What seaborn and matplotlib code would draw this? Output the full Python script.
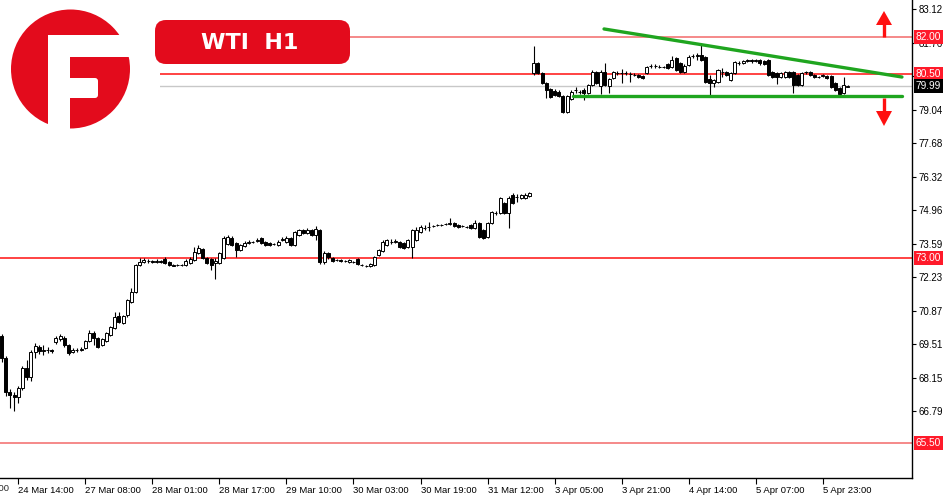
import matplotlib
matplotlib.use("Agg")
import matplotlib.pyplot as plt
from matplotlib.patches import Circle, Rectangle, Polygon, FancyBboxPatch
import numpy as np
import pandas as pd
import seaborn as sns

# ---------------- data (WTI, H1 candles) ----------------
opens = [69.85, 68.96, 67.58, 67.46, 67.38, 67.74, 68.55, 68.19, 69.21, 69.41,
         69.25, 69.29, 69.27, 69.61, 69.73, 69.77, 69.49, 69.21, 69.29, 69.29,
         69.37, 69.65, 69.97, 69.77, 69.49, 69.65, 69.89, 70.18, 70.66, 70.38,
         70.70, 71.23, 71.64, 72.73, 72.86, 72.90, 72.90, 72.86, 72.90, 72.98,
         72.86, 72.73, 72.73, 72.72, 72.73, 72.82, 72.94, 73.22, 73.38, 73.02,
         72.98, 72.82, 72.82, 73.02, 73.59, 73.83, 73.63, 73.34, 73.51, 73.63,
         73.67, 73.71, 73.83, 73.67, 73.63, 73.59, 73.55, 73.75, 73.67, 73.83,
         73.55, 73.95, 74.15, 74.03, 74.15, 73.95, 74.15, 72.86, 73.22, 73.02,
         72.94, 72.94, 72.90, 72.86, 72.86, 72.98, 72.73, 72.69, 72.69, 72.73,
         73.14, 73.30, 73.55, 73.67, 73.67, 73.67, 73.63, 73.47, 73.47, 73.75,
         74.07, 74.23, 74.28, 74.32, 74.36, 74.36, 74.40, 74.40, 74.44, 74.36,
         74.32, 74.28, 74.36, 74.23, 74.44, 74.15, 73.87, 74.44, 74.84, 74.84,
         75.25, 74.84, 75.57, 75.49, 75.45, 75.45, 75.53, 80.52, 80.93, 80.52,
         80.12, 79.87, 79.79, 79.75, 79.59, 78.94, 79.47, 79.83, 79.75, 79.83,
         79.71, 80.04, 80.56, 80.00, 80.56, 80.00, 80.32, 80.52, 80.52, 80.52,
         80.48, 80.44, 80.44, 80.40, 80.52, 80.81, 80.80, 80.77, 80.77, 80.89,
         80.77, 81.13, 80.93, 80.56, 80.85, 81.21, 81.21, 81.25, 81.17, 80.28,
         80.12, 80.16, 80.56, 80.56, 80.24, 80.52, 80.93, 80.93, 81.01, 81.05,
         81.01, 81.05, 81.01, 81.05, 80.56, 80.52, 80.36, 80.36, 80.56, 80.56,
         80.44, 80.04, 80.56, 80.56, 80.44, 80.36, 80.40, 80.40, 80.40, 80.12,
         79.91, 79.71, 79.97]
highs = [69.93, 69.05, 67.70, 67.58, 67.82, 68.63, 68.88, 69.29, 69.57, 69.49,
         69.49, 69.41, 69.33, 69.85, 69.93, 69.85, 69.53, 69.37, 69.37, 69.41,
         69.69, 70.10, 70.06, 69.81, 69.77, 70.02, 70.26, 70.83, 70.83, 70.70,
         71.35, 71.80, 72.77, 73.02, 73.02, 72.98, 72.94, 72.98, 72.94, 73.06,
         72.90, 72.77, 72.77, 72.77, 72.98, 73.06, 73.46, 73.55, 73.42, 73.06,
         73.02, 73.02, 73.26, 73.91, 73.95, 73.91, 73.67, 73.59, 73.71, 73.75,
         73.71, 73.83, 73.87, 73.71, 73.67, 73.63, 73.75, 73.87, 73.91, 73.87,
         74.11, 74.19, 74.19, 74.23, 74.19, 74.32, 74.19, 73.30, 73.26, 73.06,
         72.98, 72.98, 72.94, 72.98, 72.90, 73.02, 72.77, 72.73, 72.82, 73.10,
         73.38, 73.75, 73.79, 73.79, 73.79, 73.71, 73.67, 73.79, 74.19, 74.28,
         74.36, 74.36, 74.48, 74.36, 74.40, 74.40, 74.44, 74.64, 74.48, 74.40,
         74.36, 74.32, 74.40, 74.56, 74.48, 74.19, 74.48, 74.93, 74.93, 75.49,
         75.29, 75.53, 75.66, 75.61, 75.61, 75.66, 75.70, 81.62, 80.97, 80.56,
         80.16, 79.91, 79.87, 79.83, 79.63, 79.63, 79.83, 79.96, 79.83, 79.91,
         80.08, 80.65, 80.60, 80.65, 80.93, 80.32, 80.60, 80.60, 80.69, 80.60,
         80.56, 80.52, 80.48, 80.44, 80.81, 80.89, 80.89, 80.85, 80.81, 80.93,
         81.21, 81.17, 80.97, 80.89, 81.25, 81.29, 81.33, 81.70, 81.21, 80.44,
         80.28, 80.69, 80.73, 80.60, 80.56, 81.01, 81.01, 81.05, 81.09, 81.09,
         81.09, 81.09, 81.05, 81.09, 80.60, 80.56, 80.56, 80.60, 80.60, 80.60,
         80.48, 80.56, 80.60, 80.60, 80.48, 80.40, 80.48, 80.44, 80.44, 80.16,
         79.96, 80.36, 80.02]
lows = [68.80, 67.42, 66.93, 66.81, 67.14, 67.66, 68.07, 68.03, 68.96, 69.13,
        69.09, 69.17, 69.17, 69.53, 69.65, 69.41, 69.09, 69.17, 69.21, 69.25,
        69.33, 69.61, 69.49, 69.37, 69.45, 69.61, 69.85, 70.14, 70.38, 70.34,
        70.62, 71.19, 71.60, 72.69, 72.82, 72.82, 72.82, 72.82, 72.82, 72.77,
        72.69, 72.69, 72.69, 72.69, 72.69, 72.77, 72.90, 73.18, 72.98, 72.77,
        72.53, 72.17, 72.77, 72.98, 73.55, 73.51, 73.06, 73.30, 73.47, 73.59,
        73.63, 73.67, 73.59, 73.51, 73.51, 73.55, 73.51, 73.71, 73.63, 73.51,
        73.51, 73.91, 73.99, 73.99, 73.91, 73.75, 72.77, 72.77, 72.98, 72.86,
        72.90, 72.86, 72.86, 72.82, 72.82, 72.73, 72.69, 72.65, 72.65, 72.69,
        73.10, 73.26, 73.51, 73.59, 73.63, 73.42, 73.38, 73.42, 73.02, 73.71,
        74.03, 74.15, 74.11, 74.28, 74.32, 74.32, 74.36, 74.36, 74.28, 74.23,
        74.28, 74.23, 74.19, 74.19, 73.83, 73.79, 73.83, 74.40, 74.76, 74.80,
        74.80, 74.23, 75.21, 75.29, 75.41, 75.41, 75.49, 80.44, 80.48, 80.08,
        79.51, 79.51, 79.59, 79.55, 78.90, 78.90, 79.43, 79.71, 79.67, 79.43,
        79.67, 80.00, 80.08, 79.67, 80.00, 79.71, 80.28, 80.44, 80.12, 80.44,
        80.16, 80.40, 80.32, 80.28, 80.48, 80.73, 80.73, 80.73, 80.73, 80.69,
        80.73, 80.60, 80.52, 80.52, 80.81, 81.13, 81.05, 81.01, 80.12, 79.63,
        79.96, 80.12, 80.36, 80.40, 80.20, 80.48, 80.85, 80.89, 80.97, 80.93,
        80.97, 80.85, 80.85, 80.40, 80.32, 80.08, 80.32, 80.32, 80.32, 79.71,
        80.00, 80.00, 80.48, 80.40, 80.32, 80.32, 80.36, 80.28, 79.91, 79.79,
        79.63, 79.67, 79.95]
closes = [68.96, 67.58, 67.46, 67.38, 67.74, 68.55, 68.19, 69.21, 69.45, 69.25,
          69.29, 69.27, 69.25, 69.77, 69.85, 69.49, 69.17, 69.29, 69.27, 69.33,
          69.65, 69.97, 69.77, 69.41, 69.73, 69.97, 70.22, 70.62, 70.42, 70.66,
          71.31, 71.64, 72.73, 72.86, 72.92, 72.90, 72.86, 72.90, 72.86, 72.82,
          72.73, 72.71, 72.72, 72.73, 72.90, 72.98, 73.26, 73.42, 73.02, 72.82,
          72.73, 72.90, 73.22, 73.83, 73.87, 73.55, 73.34, 73.55, 73.63, 73.67,
          73.66, 73.75, 73.63, 73.55, 73.55, 73.58, 73.67, 73.79, 73.83, 73.55,
          74.07, 74.15, 74.03, 74.15, 73.95, 74.19, 72.86, 73.22, 73.06, 72.90,
          72.93, 72.90, 72.89, 72.94, 72.85, 72.77, 72.72, 72.68, 72.77, 73.06,
          73.34, 73.67, 73.75, 73.66, 73.71, 73.47, 73.42, 73.75, 74.15, 74.15,
          74.28, 74.22, 74.27, 74.31, 74.35, 74.37, 74.41, 74.44, 74.32, 74.28,
          74.31, 74.27, 74.23, 74.44, 73.87, 73.83, 74.44, 74.88, 74.85, 75.45,
          74.84, 75.45, 75.25, 75.50, 75.57, 75.57, 75.66, 80.93, 80.52, 80.12,
          79.83, 79.55, 79.63, 79.59, 78.94, 79.59, 79.75, 79.82, 79.76, 79.71,
          80.04, 80.56, 80.12, 80.56, 80.04, 80.28, 80.56, 80.53, 80.51, 80.53,
          80.47, 80.45, 80.36, 80.32, 80.77, 80.80, 80.81, 80.78, 80.76, 80.73,
          81.05, 80.65, 80.56, 80.81, 81.17, 81.20, 81.25, 81.05, 80.16, 80.12,
          80.24, 80.65, 80.57, 80.44, 80.52, 80.97, 80.94, 81.01, 81.05, 81.01,
          81.05, 80.93, 80.89, 80.44, 80.36, 80.36, 80.52, 80.56, 80.36, 80.04,
          80.04, 80.52, 80.55, 80.44, 80.36, 80.37, 80.44, 80.32, 79.96, 79.83,
          79.67, 80.04, 79.99]

tick_positions = [4, 20, 36, 52, 68, 84, 100, 116, 132, 148, 164, 180, 196]
tick_labels = ["24 Mar 14:00", "27 Mar 08:00", "28 Mar 01:00", "28 Mar 17:00",
               "29 Mar 10:00", "30 Mar 03:00", "30 Mar 19:00", "31 Mar 12:00",
               "3 Apr 05:00", "3 Apr 21:00", "4 Apr 14:00", "5 Apr 07:00",
               "5 Apr 23:00"]
prev_tick_position = -12
prev_tick_label = "23 Mar 22:00"

ytick_values = [83.12, 81.76, 80.40, 79.04, 77.68, 76.32, 74.96, 73.59,
                72.23, 70.87, 69.51, 68.15, 66.79]
level_prices = [82.00, 80.50, 73.00, 65.50]
level_colors = ["#f26a6a", "#ff1010", "#ff1010", "#f26a6a"]
current_price = 79.99

upper_trend_x = [143.8, 214.9]
upper_trend_y = [82.31, 80.36]
lower_trend_x = [136.4, 214.9]
lower_trend_y = [79.59, 79.59]

title_text = "WTI  H1"

# ---------------- plotting ----------------
sns.set_theme(style="white")
plt.rcParams["font.family"] = ["Liberation Sans", "DejaVu Sans"]

RED = "#e30b1c"
GREEN = "#1fa51f"
XFONT = ["Liberation Sans Narrow", "Liberation Sans", "DejaVu Sans"]
XSIZE = 6.8

fig = plt.figure(figsize=(9.5, 5), dpi=100)
ax = fig.add_axes([0, 22 / 500, 912 / 950, 478 / 500])

df = pd.DataFrame({"i": np.arange(len(opens)), "o": opens, "h": highs,
                   "l": lows, "c": closes})
up = df["c"] >= df["o"]
body_bottom = np.minimum(df["o"], df["c"])
body_height = np.maximum(np.abs(df["c"] - df["o"]), 0.004)

# price levels
for p, col in zip(level_prices, level_colors):
    ax.axhline(p, color=col, lw=1.1, zorder=1)
ax.axhline(current_price, color="#c8c8c8", lw=1.0, zorder=1)

# candles
ax.vlines(df["i"], df["l"], df["h"], color="black", lw=0.8, zorder=3)
ax.bar(df["i"][up], body_height[up], bottom=body_bottom[up], width=0.72,
       color="white", edgecolor="black", linewidth=0.7, zorder=4)
ax.bar(df["i"][~up], body_height[~up], bottom=body_bottom[~up], width=0.72,
       color="black", edgecolor="black", linewidth=0.7, zorder=4)

# trend lines
sns.lineplot(x=upper_trend_x, y=upper_trend_y, ax=ax, color=GREEN, lw=2.4,
             zorder=5)
sns.lineplot(x=lower_trend_x, y=lower_trend_y, ax=ax, color=GREEN, lw=2.4,
             zorder=5)

ax.set_xlim(-0.36, 217.3)
ax.set_ylim(64.09, 83.485)
ax.grid(False)
ax.set_xlabel("")
ax.set_ylabel("")

ax.yaxis.tick_right()
ax.set_yticks(ytick_values)
ax.set_yticklabels([f"{v:.2f}" for v in ytick_values])
ax.tick_params(axis="y", which="major", direction="out", length=3, width=0.8,
               labelsize=7, pad=2, color="black", labelcolor="black",
               right=True, left=False, labelright=True, labelleft=False)
ax.set_xticks(tick_positions)
ax.set_xticklabels(tick_labels, ha="left")
ax.tick_params(axis="x", which="major", direction="out", length=4, width=0.8,
               labelsize=XSIZE, pad=2, color="black", labelcolor="black",
               bottom=True)
for lab in ax.get_xticklabels():
    lab.set_family(XFONT)
ax.text(prev_tick_position + 0.5, -6 / 478, prev_tick_label,
        transform=ax.get_xaxis_transform(), ha="left", va="top",
        fontsize=XSIZE, clip_on=False, family=XFONT)

for s in ["top", "left"]:
    ax.spines[s].set_visible(False)
for s in ["right", "bottom"]:
    ax.spines[s].set_visible(True)
    ax.spines[s].set_color("black")
    ax.spines[s].set_linewidth(1.0)

# price boxes on the axis
for p in level_prices:
    ax.text(1.004, p, f"{p:.2f}", transform=ax.get_yaxis_transform(),
            ha="left", va="center", fontsize=7.3, color="white",
            bbox=dict(boxstyle="square,pad=0.2", fc="#ff1a2a", ec="none"),
            clip_on=False, zorder=10)
ax.text(1.004, current_price, f"{current_price:.2f}",
        transform=ax.get_yaxis_transform(), ha="left", va="center",
        fontsize=7.3, color="white",
        bbox=dict(boxstyle="square,pad=0.2", fc="black", ec="none"),
        clip_on=False, zorder=10)

# ---------------- overlay: logo, title, arrows (pixel space) ----------------
ov = fig.add_axes([0, 0, 1, 1])
ov.set_xlim(0, 950)
ov.set_ylim(500, 0)
ov.axis("off")

# logo: red disc with a white "F" cut out of it
ov.add_patch(Rectangle((0, 0), 160, 140, fc="white", ec="none"))
ov.add_patch(Circle((70.5, 69), 59.5, fc=RED, ec="none"))
ov.add_patch(Rectangle((48, 35), 22, 100, fc="white", ec="none"))     # stem
ov.add_patch(FancyBboxPatch((48, 35), 92, 22,
                            boxstyle="round,pad=0,rounding_size=3",
                            fc="white", ec="none"))                     # top bar
ov.add_patch(FancyBboxPatch((60, 78), 38, 20,
                            boxstyle="round,pad=0,rounding_size=3",
                            fc="white", ec="none"))                     # middle bar

ov.add_patch(FancyBboxPatch((155, 20), 195, 44,
                            boxstyle="round,pad=0,rounding_size=11",
                            fc=RED, ec="none"))
ov.text(250, 43, title_text, ha="center", va="center", color="white",
        fontsize=16, fontweight="bold", family="DejaVu Sans")

# arrows
ov.plot([884, 884], [37, 24], color="#ff1010", lw=2.4, solid_capstyle="butt")
ov.add_patch(Polygon([(876, 25), (892, 25), (884, 11)], closed=True,
                     fc="#ff1010", ec="none"))
ov.plot([884, 884], [98, 112], color="#ff1010", lw=2.4, solid_capstyle="butt")
ov.add_patch(Polygon([(876, 111), (892, 111), (884, 126)], closed=True,
                     fc="#ff1010", ec="none"))

fig.savefig("out.png", dpi=100, facecolor="white")
